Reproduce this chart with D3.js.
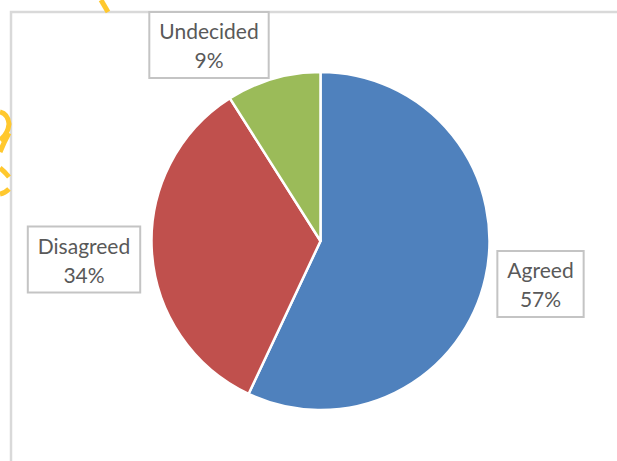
<!DOCTYPE html>
<html>
<head>
<meta charset="utf-8">
<script src="https://cdn.jsdelivr.net/npm/d3@7"></script>
<style>
  html, body { margin: 0; padding: 0; background: #fff; }
  svg { display: block; }
</style>
</head>
<body>
<svg id="chart" width="617" height="461"></svg>
<script>
// Survey responses
const categories = ["Agreed", "Disagreed", "Undecided"];
const values = [57, 34, 9];
const colors = ["#4F81BD", "#C0504D", "#9BBB59"];

const W = 617, H = 461;
const cx = 320.5, cy = 241, radius = 169;

const svg = d3.select("#chart");

// chart area frame (continues past the right and bottom edges)
svg.append("rect")
  .attr("x", 11).attr("y", 12)
  .attr("width", W + 20).attr("height", H + 20)
  .attr("fill", "#fff")
  .attr("stroke", "#d9d9d9")
  .attr("stroke-width", 2.5);

// yellow pen strokes around the frame
const pen = svg.append("g")
  .attr("fill", "none")
  .attr("stroke", "#FFC82E")
  .attr("stroke-width", 5)
  .attr("stroke-linecap", "butt");
pen.append("path").attr("d", "M101,0 L108,12");
pen.append("path").attr("d", "M0,112 Q8,114 9,124 Q8,134 0,140");
pen.append("path").attr("d", "M9,133 Q4,142 0,152");
pen.append("path").attr("d", "M0,168 Q5,172 9,177");
pen.append("path").attr("d", "M0,194 Q5,193 9,189");

const pie = d3.pie().sort(null).value(d => d.value)
  .startAngle(0).endAngle(2 * Math.PI);
const data = categories.map((c, i) => ({ name: c, value: values[i], color: colors[i] }));
const arcs = pie(data);

const arc = d3.arc().innerRadius(0).outerRadius(radius);

const g = svg.append("g").attr("transform", `translate(${cx},${cy})`);
g.selectAll("path.slice")
  .data(arcs)
  .join("path")
  .attr("class", "slice")
  .attr("d", arc)
  .attr("fill", d => d.data.color)
  .attr("stroke", "#fff")
  .attr("stroke-width", 2.5)
  .attr("stroke-linejoin", "round");

// data label boxes, keyed by category (centre of each callout box)
const labelCentres = {
  "Agreed":    [540.5, 284],
  "Disagreed": [84, 259.5],
  "Undecided": [209, 45]
};
const total = d3.sum(values);

const labels = svg.append("g")
  .attr("font-family", "Lato, 'Open Sans', sans-serif")
  .attr("font-size", 21)
  .attr("fill", "#595959");

arcs.forEach(a => {
  const [lx, ly] = labelCentres[a.data.name];
  const lg = labels.append("g").attr("transform", `translate(${lx},${ly})`);
  const box = lg.append("rect")
    .attr("fill", "#fff")
    .attr("stroke", "#c4c4c4")
    .attr("stroke-width", 2);
  const t = lg.append("text").attr("text-anchor", "middle");
  t.append("tspan").attr("x", 0).attr("y", -6).text(a.data.name);
  t.append("tspan").attr("x", 0).attr("y", 23)
    .text(Math.round(a.data.value / total * 100) + "%");
  const bb = t.node().getBBox();
  const bw = bb.width + 20, bh = 66;
  box.attr("x", -bw / 2).attr("y", -bh / 2).attr("width", bw).attr("height", bh);
});
</script>
</body>
</html>
